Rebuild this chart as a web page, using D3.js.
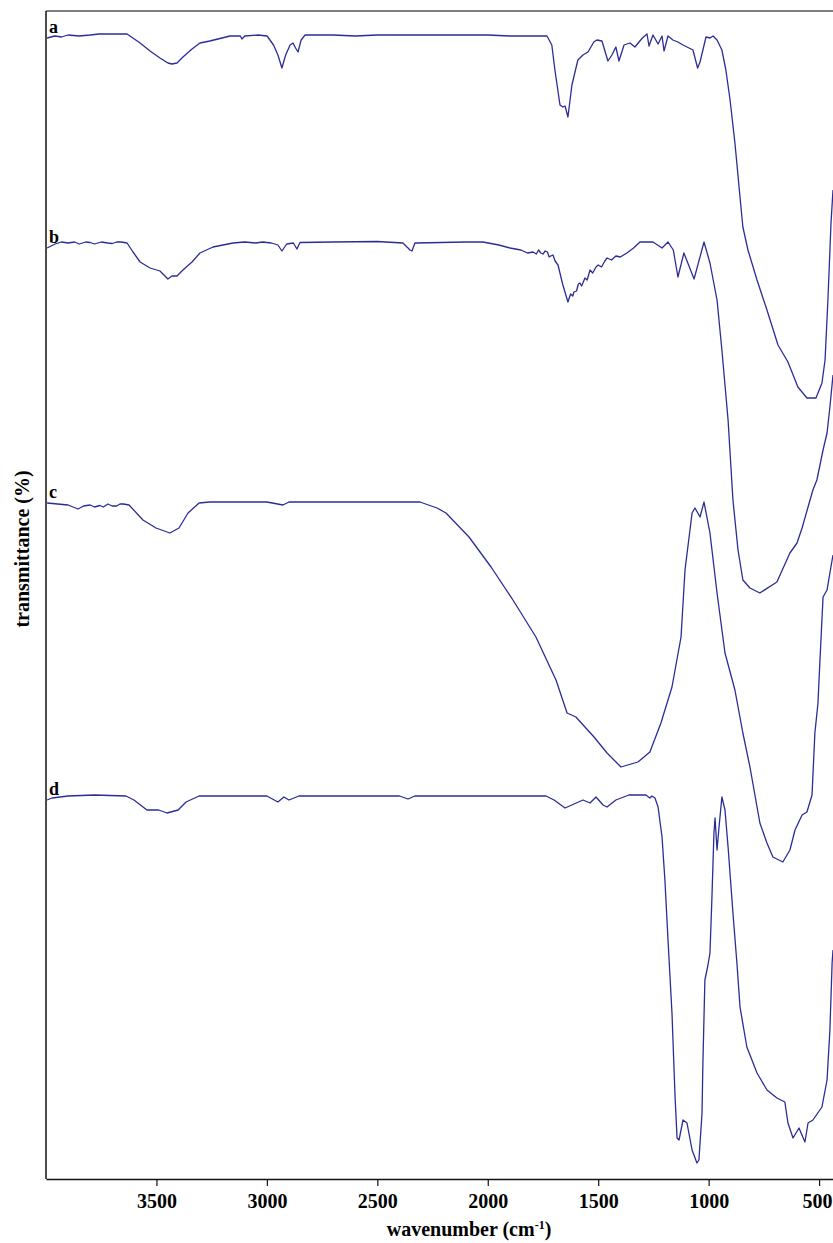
<!DOCTYPE html>
<html>
<head>
<meta charset="utf-8">
<script src="https://cdn.jsdelivr.net/npm/d3@7"></script>
<style>
  html, body { margin: 0; padding: 0; background: #fff; }
  svg { display: block; }
  .tick text { font-family: "Liberation Serif", "Times New Roman", serif; font-weight: bold; }
</style>
</head>
<body>
<div id="chart"></div>
<script>
// FTIR spectra, wavenumber (cm-1) vs transmittance (arbitrary offset units)
const xTicks = [3500, 3000, 2500, 2000, 1500, 1000, 500];
const seriesNames = ['a', 'b', 'c', 'd'];

const spectrumA = [
  [3995,114.2],[3960,114.4],[3930,114.3],[3900,114.5],[3850,114.4],[3800,114.5],[3760,114.6],
  [3700,114.6],[3633,114.6],[3574,113.7],[3529,112.9],
  [3484,112.2],[3448,111.7],[3430,111.6],[3407,111.7],[3380,112.3],[3339,113.1],[3303,113.7],
  [3258,113.9],[3167,114.4],[3120,114.4],[3113,114.1],[3100,114.4],[3040,114.5],[2999,114.4],
  [2970,113.5],[2950,112.5],[2932,111.2],[2915,112.5],[2895,113.5],[2882,113.7],[2870,113.2],
  [2859,112.8],[2845,114.0],[2827,114.5],[2700,114.5],[2600,114.4],[2500,114.5],[2300,114.5],
  [2000,114.5],[1900,114.4],
  [1780,114.4],[1732,114.4],[1710,113.5],[1696,111.0],[1673,107.5],[1660,107.3],[1650,107.4],
  [1637,106.3],[1619,109.5],[1592,112.0],[1569,112.5],[1546,112.8],[1520,113.8],[1506,114.0],
  [1483,113.9],[1456,111.9],[1438,112.5],[1420,113.3],[1406,111.9],[1383,113.5],[1356,113.7],
  [1334,113.3],[1300,114.2],[1279,114.6],[1270,113.4],[1252,114.5],[1229,113.6],[1211,114.4],
  [1202,112.9],[1184,114.4],[1162,114.0],[1139,113.8],[1116,113.5],[1071,113.0],[1050,111.2],
  [1039,111.8],[1026,113.0],[1012,114.3],[994,114.2],[980,114.4],[962,114.0],[940,113.0],
  [922,111.0],[903,108.0],[881,103.7],[858,98.3],[845,95.3],[822,93.0],[781,90.0],[736,87.0],
  [686,83.5],[641,81.8],[596,79.3],[555,78.2],[514,78.2],[487,79.7],[473,82.0],[460,88.0],
  [446,95.7],[437,99.0]
];

const spectrumB = [
  [3995,93.2],[3959,93.6],[3930,93.8],[3900,93.7],[3870,93.8],[3850,93.6],[3820,93.8],
  [3800,93.75],[3780,93.6],[3750,93.8],[3720,93.7],[3700,93.65],
  [3680,93.8],[3660,93.8],[3633,93.7],[3606,92.8],[3574,91.8],[3529,91.2],[3484,90.9],[3448,90.1],
  [3430,90.4],[3407,90.4],[3380,91.0],[3339,91.8],[3303,92.7],[3244,93.3],[3153,93.7],
  [3100,93.8],[3050,93.7],[3020,93.8],[2980,93.7],[2950,93.5],[2932,92.9],[2910,93.6],
  [2880,93.7],[2864,93.1],[2850,93.75],
  [2700,93.8],[2500,93.85],[2384,93.7],[2361,93.2],[2352,93.0],[2343,92.9],[2330,93.7],
  [2320,93.7],[2100,93.8],[2022,93.8],[1950,93.5],[1899,93.2],[1850,93.0],[1820,92.7],
  [1795,92.8],[1780,92.6],[1770,93.0],[1760,92.7],[1750,92.6],[1740,92.9],
  [1730,92.8],[1722,92.3],[1715,92.4],[1705,92.5],[1695,91.9],[1682,91.5],[1660,89.5],
  [1637,87.8],[1625,88.6],[1615,88.4],[1610,88.8],[1598,88.9],[1590,89.6],
  [1583,89.7],[1575,89.4],[1560,90.2],[1550,90.0],[1537,91.0],[1525,90.7],[1510,91.3],
  [1500,91.5],[1485,91.3],[1470,91.9],[1460,92.2],[1440,92.0],[1420,92.4],[1400,92.3],[1370,92.7],
  [1340,93.2],[1311,93.8],[1252,93.8],[1211,93.2],[1184,93.8],[1160,93.0],[1139,90.3],
  [1112,92.7],[1066,90.1],[1021,93.8],[994,91.7],[962,88.0],[940,83.0],[912,76.0],[890,68.0],
  [867,63.0],[845,60.0],[813,59.2],[768,58.7],[691,59.8],[632,62.7],[600,63.7],[577,65.2],
  [550,67.3],[528,69.0],[510,70.0],[482,73.0],[464,74.7],[451,77.3],[437,80.5]
];

const spectrumC = [
  [3995,67.7],[3900,67.5],[3855,67.1],[3830,67.4],[3800,67.5],[3780,67.3],[3756,67.45],
  [3740,67.3],[3720,67.6],[3700,67.4],[3680,67.4],[3665,67.6],
  [3650,67.6],[3624,67.5],[3561,66.0],[3502,65.2],[3439,64.7],[3398,65.2],[3357,66.7],
  [3307,67.7],[3258,67.8],[3000,67.8],[2927,67.5],[2900,67.8],[2600,67.8],[2307,67.8],
  [2230,67.2],[2189,66.7],[2085,64.3],[1985,61.3],[1886,58.0],[1782,54.3],[1691,50.0],
  [1641,46.7],[1601,46.3],[1519,44.3],[1460,42.7],[1397,41.3],[1320,41.8],[1266,42.8],
  [1216,45.7],[1166,49.3],[1125,54.3],[1107,61.0],[1075,66.7],[1062,67.2],[1039,66.3],
  [1021,67.8],[994,64.7],[962,58.7],[926,52.7],[881,49.0],[845,44.7],[813,41.3],[768,35.7],
  [736,33.7],[709,32.3],[664,31.8],[632,33.0],[609,35.0],[577,36.5],[555,36.8],[532,38.5],
  [519,44.7],[505,47.7],[496,52.0],[482,58.3],[464,59.0],[441,62.0],[437,62.5]
];

const spectrumD = [
  [3995,38.0],[3973,38.2],[3900,38.4],[3780,38.5],[3638,38.4],[3602,38.0],[3543,37.0],
  [3490,37.0],[3452,36.7],[3402,37.0],[3366,37.8],[3307,38.4],[3000,38.4],[2950,37.8],
  [2923,38.3],[2900,38.0],[2855,38.4],[2400,38.4],[2361,38.1],[2330,38.4],[1736,38.4],
  [1700,38.0],[1650,37.2],[1569,38.0],[1537,37.7],[1510,38.3],[1478,37.5],[1460,37.3],
  [1420,38.0],[1361,38.5],[1284,38.5],[1266,38.2],[1257,38.4],[1243,38.2],[1229,37.3],
  [1211,34.3],[1198,30.0],[1184,24.0],[1166,16.7],[1152,8.3],[1143,4.2],[1134,4.0],
  [1116,6.0],[1098,5.7],[1075,3.0],[1053,1.7],[1044,2.0],[1030,6.7],[1026,11.7],[1017,20.0],
  [1003,21.5],[994,22.7],[985,28.3],[976,34.7],[971,36.2],[962,33.0],[953,35.3],[940,38.3],
  [926,37.0],[912,33.3],[890,26.7],[872,21.7],[858,17.3],[827,13.3],[781,10.7],[736,9.0],
  [691,8.2],[655,7.8],[641,5.7],[618,4.2],[591,5.2],[564,3.8],[550,5.7],[528,6.0],[487,7.3],
  [464,10.0],[451,15.0],[441,21.7],[437,23.0]
];

const spectra = [spectrumA, spectrumB, spectrumC, spectrumD];

const width = 833, height = 1243;
const margin = {left: 46, right: 0, top: 11, bottom: 1179};

const svg = d3.select('#chart')
  .append('svg')
  .attr('width', width)
  .attr('height', height);

const x = d3.scaleLinear()
  .domain([4000, 437])
  .range([margin.left, width - margin.right]);

const y = d3.scaleLinear()
  .domain([0, 117])
  .range([1180, 10]);

/*frame*/
svg.append('line')
  .attr('x1', margin.left).attr('x2', width)
  .attr('y1', margin.top).attr('y2', margin.top)
  .attr('stroke', '#555').attr('stroke-width', 1.5);

svg.append('line')
  .attr('x1', margin.left).attr('x2', margin.left)
  .attr('y1', margin.top).attr('y2', margin.bottom)
  .attr('stroke', '#111').attr('stroke-width', 1.5);

/*x axis*/
const xAxis = svg.append('g')
  .attr('transform', `translate(0, ${margin.bottom})`)
  .call(d3.axisBottom(x).tickValues(xTicks).tickFormat(d3.format('d'))
    .tickSize(7).tickPadding(8).tickSizeOuter(0));

xAxis.select('.domain').attr('stroke', '#111').attr('stroke-width', 1.5);
xAxis.selectAll('.tick line').attr('stroke', '#111').attr('stroke-width', 1.2);
xAxis.selectAll('.tick text')
  .attr('font-size', 20)
  .attr('fill', '#000')
  // last label sits on the right edge, keep it inside the page
  .attr('text-anchor', (d, i) => i === xTicks.length - 1 ? 'end' : 'middle')
  .attr('dx', (d, i) => i === xTicks.length - 1 ? 13 : 0);

/*spectra*/
const line = d3.line()
  .x(d => x(d[0]))
  .y(d => y(d[1]));

svg.append('defs').append('clipPath').attr('id', 'plot')
  .append('rect')
  .attr('x', margin.left).attr('y', margin.top)
  .attr('width', width - margin.left).attr('height', margin.bottom - margin.top);

svg.append('g')
  .attr('clip-path', 'url(#plot)')
  .selectAll('path')
  .data(spectra)
  .enter()
  .append('path')
  .attr('d', line)
  .attr('fill', 'none')
  .attr('stroke', '#2b2d96')
  .attr('stroke-width', 1.3)
  .attr('stroke-linejoin', 'round');

/*series labels, placed just above each trace's start*/
svg.selectAll('.series-label')
  .data(seriesNames)
  .enter()
  .append('text')
  .attr('class', 'series-label')
  .attr('x', margin.left + 3)
  .attr('y', (d, i) => y(spectra[i][0][1]) - 5)
  .attr('font-family', '"Liberation Serif", "Times New Roman", serif')
  .attr('font-weight', 'bold')
  .attr('font-size', 18)
  .text(d => d);

/*axis titles*/
const xTitle = svg.append('text')
  .attr('x', 469)
  .attr('y', 1236)
  .attr('text-anchor', 'middle')
  .attr('font-family', '"Liberation Serif", "Times New Roman", serif')
  .attr('font-weight', 'bold')
  .attr('font-size', 20);
xTitle.append('tspan').text('wavenumber (cm');
xTitle.append('tspan').attr('baseline-shift', 'super').attr('font-size', 12).text('-1');
xTitle.append('tspan').text(')');

svg.append('text')
  .attr('transform', 'translate(29, 549) rotate(-90)')
  .attr('text-anchor', 'middle')
  .attr('font-family', '"Liberation Serif", "Times New Roman", serif')
  .attr('font-weight', 'bold')
  .attr('font-size', 20)
  .text('transmittance (%)');
</script>
</body>
</html>
